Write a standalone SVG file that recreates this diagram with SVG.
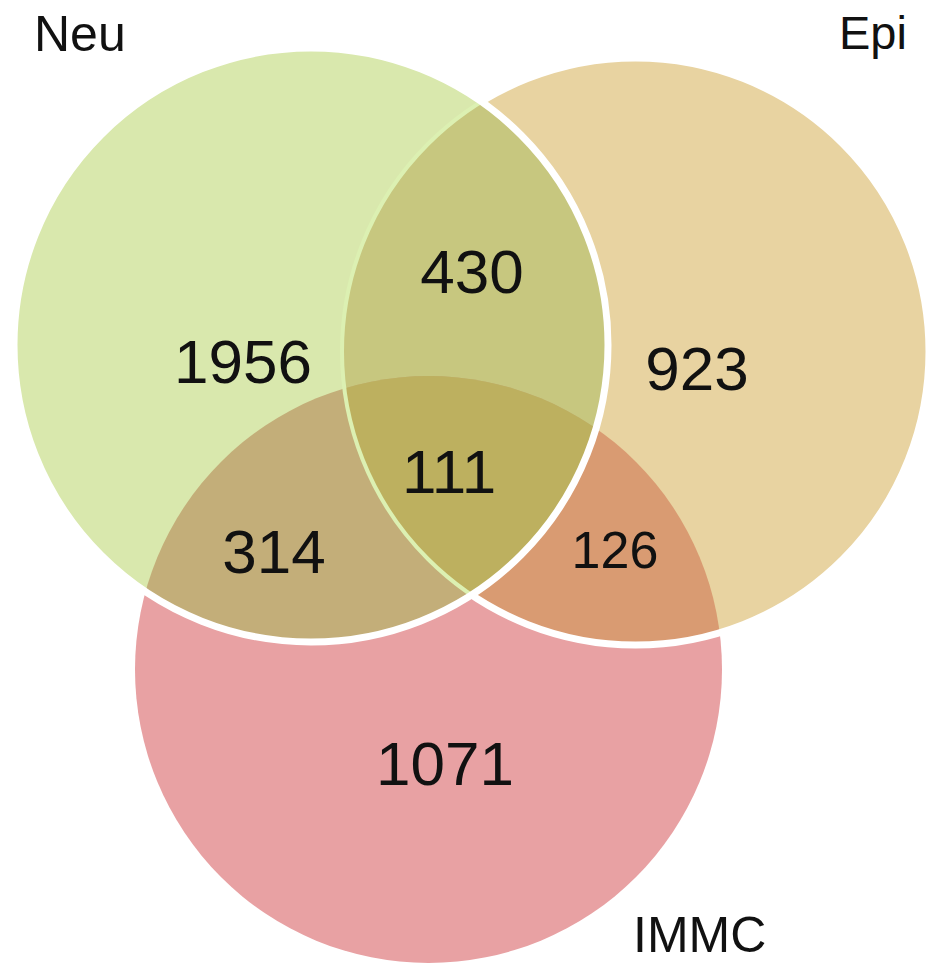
<svg xmlns="http://www.w3.org/2000/svg" width="945" height="978" viewBox="0 0 945 978">
  <defs>
    <clipPath id="cNeu"><circle cx="311" cy="345" r="297"/></clipPath>
    <clipPath id="cEpi"><circle cx="635.5" cy="351.5" r="293.5"/></clipPath>
    <clipPath id="cImmc"><circle cx="428.5" cy="669.5" r="293.5"/></clipPath>
  </defs>
  <style>
    .num { font-family: "Liberation Sans", Arial, sans-serif; font-size: 62px; fill: #111; text-anchor: middle; }
    .lbl { font-family: "Liberation Sans", Arial, sans-serif; font-size: 50px; fill: #111; }
    .white { fill: none; stroke: #ffffff; stroke-width: 7; }
  </style>
  <rect width="945" height="978" fill="#ffffff"/>

  <g id="immc-set">
    <circle cx="428.5" cy="669.5" r="293.5" fill="#e8a1a3"/>
  </g>
  <g id="epi-set">
    <circle cx="635.5" cy="351.5" r="293.5" fill="#e8d3a1"/>
    <circle cx="635.5" cy="351.5" r="293.5" fill="#d99b72" clip-path="url(#cImmc)"/>
    <circle cx="635.5" cy="351.5" r="293.5" class="white"/>
  </g>
  <g id="neu-set">
    <circle cx="311" cy="345" r="297" fill="#d9e8ad"/>
    <circle cx="311" cy="345" r="297" fill="#c7c77f" clip-path="url(#cEpi)"/>
    <circle cx="311" cy="345" r="297" fill="#c3ae79" clip-path="url(#cImmc)"/>
    <g clip-path="url(#cEpi)">
      <circle cx="311" cy="345" r="297" fill="#bdb05f" clip-path="url(#cImmc)"/>
    </g>
  </g>
  <g id="outlines">
    <circle cx="635.5" cy="351.5" r="293.5" fill="none" stroke="#dcf0b2" stroke-width="4" clip-path="url(#cNeu)"/>
    <circle cx="311" cy="345" r="297" class="white"/>
  </g>

  <g id="labels">
    <text class="lbl" x="34" y="51">Neu</text>
    <text class="lbl" x="839" y="49" style="font-size:47px">Epi</text>
    <text class="lbl" x="633" y="952">IMMC</text>
  </g>
  <g id="counts">
    <text class="num" x="243" y="383">1956</text>
    <text class="num" x="472" y="293">430</text>
    <text class="num" x="697" y="390">923</text>
    <text class="num" x="449" y="493">111</text>
    <text class="num" x="274" y="573">314</text>
    <text class="num" x="615" y="568" style="font-size:52px">126</text>
    <text class="num" x="445" y="785">1071</text>
  </g>
</svg>
